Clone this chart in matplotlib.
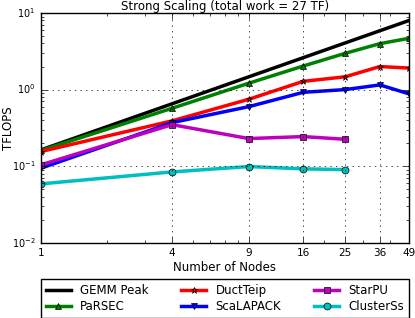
import matplotlib
matplotlib.use("Agg")
import matplotlib.pyplot as plt

plt.style.use('classic')

nodes = [1, 4, 9, 16, 25, 36, 49]
gemm_peak = [0.163, 0.652, 1.467, 2.608, 4.075, 5.868, 7.987]
parsec = [0.16, 0.57, 1.21, 2.03, 2.98, 3.98, 4.68]
ducteip = [0.155, 0.39, 0.747, 1.28, 1.47, 2.0, 1.91]
scalapack = [0.094, 0.37, 0.598, 0.92, 1.0, 1.15, 0.88]
starpu_nodes = [1, 4, 9, 16, 25]
starpu = [0.104, 0.348, 0.229, 0.243, 0.224]
clusterss_nodes = [1, 4, 9, 16, 25]
clusterss = [0.0586, 0.084, 0.0987, 0.092, 0.090]

fig = plt.figure(figsize=(4.15, 3.18), dpi=100, facecolor='white')
ax = fig.add_axes([0.0988, 0.237, 0.8867, 0.722])

lw = 2.5
ms = 5
ax.plot(nodes, gemm_peak, 'k-', lw=lw, label='GEMM Peak')
ax.plot(nodes, parsec, 'g-^', lw=lw, ms=ms, label='PaRSEC')
ax.plot(nodes, ducteip, 'r-*', lw=lw, ms=ms, label='DuctTeip')
ax.plot(nodes, scalapack, 'b-v', lw=lw, ms=ms, label='ScaLAPACK')
ax.plot(starpu_nodes, starpu, 'm-s', lw=lw, ms=ms, label='StarPU')
ax.plot(clusterss_nodes, clusterss, 'c-o', lw=lw, ms=ms, label='ClusterSs')

ax.set_xscale('log')
ax.set_yscale('log')
ax.set_xlim(1, 49)
ax.set_ylim(0.01, 10)
ax.set_xticks(nodes)
ax.set_xticklabels([str(n) for n in nodes])
ax.tick_params(labelsize=7.5)
ax.tick_params(axis='y', labelsize=7)
ax.grid(True, which='major')
ax.set_title('Strong Scaling (total work = 27 TF)', fontsize=8.5, pad=2)
ax.set_xlabel('Number of Nodes', fontsize=8.5, labelpad=2)
ax.set_ylabel('TFLOPS', fontsize=8.5)
ax.yaxis.set_label_coords(-0.072, 0.5)

ax.legend(loc='upper center', bbox_to_anchor=(0, -0.158, 1, 0.0), mode='expand',
          ncol=3, fontsize=8.5, borderaxespad=0, handlelength=2.1,
          numpoints=1, labelspacing=0.3, fancybox=False)

fig.savefig('out.png', dpi=100)
